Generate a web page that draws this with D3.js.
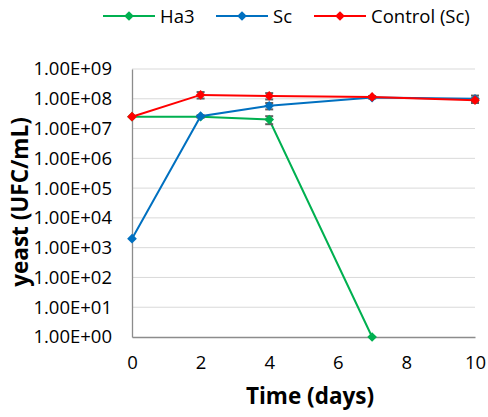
<!DOCTYPE html>
<html>
<head>
<meta charset="utf-8">
<script src="https://cdn.jsdelivr.net/npm/d3@7/dist/d3.min.js"></script>
<style>
  html, body { margin: 0; padding: 0; background: #fff; }
  svg { display: block; font-family: "Open Sans", Lato, sans-serif; }
</style>
</head>
<body>
<svg id="chart" width="488" height="417"></svg>
<script>
// Sampling days
const days = [0, 2, 4, 7, 10];

// Yeast counts (UFC/mL) per series, with standard deviations
const ha3Days = [0, 2, 4, 7];
const ha3Values = [2.5e7, 2.5e7, 2.0e7, 1];
const ha3Errors = [0, 1.5e6, 6e6, 0];

const scValues = [2.0e3, 2.6e7, 5.8e7, 1.1e8, 1.0e8];
const scErrors = [0, 2e6, 1.4e7, 8e6, 2.8e7];

const controlValues = [2.5e7, 1.35e8, 1.25e8, 1.15e8, 9.0e7];
const controlErrors = [0, 3.3e7, 3.0e7, 8e6, 1.2e7];

const seriesNames = ["Ha3", "Sc", "Control (Sc)"];
const seriesColors = ["#00B050", "#0070C0", "#FF0000"];

const xTicks = [0, 2, 4, 6, 8, 10];
const yTicks = [1e0, 1e1, 1e2, 1e3, 1e4, 1e5, 1e6, 1e7, 1e8, 1e9];
const yTickLabels = ["1.00E+00", "1.00E+01", "1.00E+02", "1.00E+03", "1.00E+04",
                     "1.00E+05", "1.00E+06", "1.00E+07", "1.00E+08", "1.00E+09"];

const series = [
  { name: seriesNames[0], color: seriesColors[0], x: ha3Days, y: ha3Values, e: ha3Errors },
  { name: seriesNames[1], color: seriesColors[1], x: days, y: scValues, e: scErrors },
  { name: seriesNames[2], color: seriesColors[2], x: days, y: controlValues, e: controlErrors }
];

const FONT = "'Open Sans', Lato, sans-serif";
const svg = d3.select("#chart");
const margin = { left: 132, right: 13, top: 69, bottom: 80 };
const W = 488, H = 417;

const x = d3.scaleLinear().domain([0, 10]).range([margin.left, W - margin.right]);
const y = d3.scaleLog().domain([1, 1e9]).range([H - margin.bottom, margin.top]);

// Horizontal gridlines
svg.append("g")
  .selectAll("line")
  .data(yTicks.slice(1))
  .join("line")
  .attr("x1", x(0)).attr("x2", x(10))
  .attr("y1", d => y(d)).attr("y2", d => y(d))
  .attr("stroke", "#d9d9d9").attr("stroke-width", 1);

// Y axis
const yAxis = d3.axisLeft(y)
  .tickValues(yTicks)
  .tickFormat((d, i) => yTickLabels[i])
  .tickSize(0)
  .tickPadding(20);
const gy = svg.append("g").attr("transform", `translate(${x(0)},0)`).call(yAxis);
gy.select(".domain").attr("stroke", "#8c8c8c").attr("stroke-width", 1.3);
gy.selectAll("text").attr("font-size", 18.5).attr("fill", "#000").attr("font-family", FONT);

// X axis
const xAxis = d3.axisBottom(x).tickValues(xTicks).tickSize(0).tickPadding(19);
const gx = svg.append("g").attr("transform", `translate(0,${y(1)})`).call(xAxis);
gx.select(".domain").attr("stroke", "#8c8c8c").attr("stroke-width", 1.3);
gx.selectAll("text").attr("font-size", 18.5).attr("fill", "#000").attr("font-family", FONT);

// Axis titles
svg.append("text")
  .attr("x", 310).attr("y", 404)
  .attr("text-anchor", "middle")
  .attr("font-size", 22.5).attr("font-weight", "bold")
  .text("Time (days)");

svg.append("text")
  .attr("transform", `translate(28,202) rotate(-90)`)
  .attr("text-anchor", "middle")
  .attr("font-size", 22.5).attr("font-weight", "bold")
  .text("yeast (UFC/mL)");

const diamond = d3.symbol().type(d3.symbolDiamond2).size(60);

// Series: lines, error bars, markers
series.forEach(s => {
  const pts = s.x.map((d, i) => ({ x: d, y: s.y[i], e: s.e[i] }));
  const g = svg.append("g");

  g.append("path")
    .datum(pts)
    .attr("fill", "none")
    .attr("stroke", s.color)
    .attr("stroke-width", 2)
    .attr("d", d3.line().x(d => x(d.x)).y(d => y(d.y)));

  const eb = g.selectAll(".eb").data(pts.filter(d => d.e > 0)).join("g");
  eb.append("line")
    .attr("x1", d => x(d.x)).attr("x2", d => x(d.x))
    .attr("y1", d => y(d.y + d.e)).attr("y2", d => y(Math.max(d.y - d.e, 1)))
    .attr("stroke", "#5f5f5f").attr("stroke-width", 1.6);
  eb.selectAll(".cap").data(d => [
      { x: d.x, v: d.y + d.e },
      { x: d.x, v: Math.max(d.y - d.e, 1) }
    ]).join("line")
    .attr("x1", d => x(d.x) - 4).attr("x2", d => x(d.x) + 4)
    .attr("y1", d => y(d.v)).attr("y2", d => y(d.v))
    .attr("stroke", "#5f5f5f").attr("stroke-width", 2);

  g.selectAll(".pt").data(pts).join("path")
    .attr("transform", d => `translate(${x(d.x)},${y(d.y)})`)
    .attr("d", diamond)
    .attr("fill", s.color);
});

// Legend
const legendX = [103, 216, 314];
const lg = svg.append("g").attr("transform", "translate(0,16)");
series.forEach((s, i) => {
  const g = lg.append("g").attr("transform", `translate(${legendX[i]},0)`);
  g.append("line").attr("x1", 0).attr("x2", 52).attr("y1", 0).attr("y2", 0)
    .attr("stroke", s.color).attr("stroke-width", 2.2);
  g.append("path").attr("transform", "translate(26,0)").attr("d", diamond).attr("fill", s.color);
  g.append("text").attr("x", 57).attr("y", 6.5)
    .attr("font-size", 18.5).attr("fill", "#000").attr("font-family", FONT)
    .text(s.name);
});
</script>
</body>
</html>
